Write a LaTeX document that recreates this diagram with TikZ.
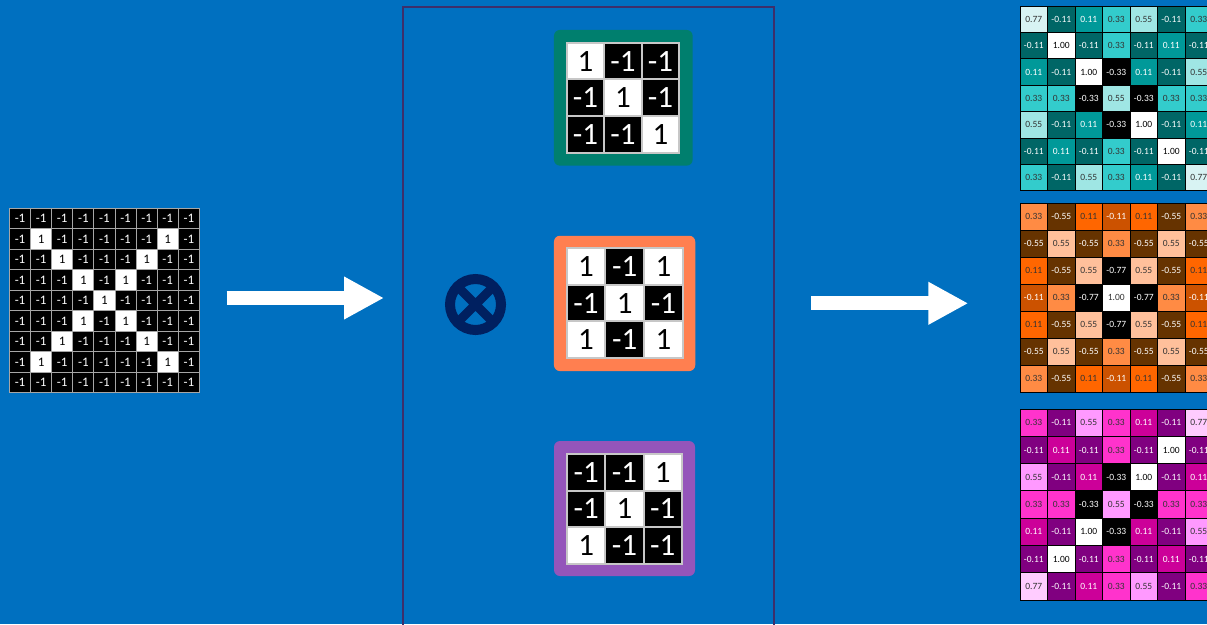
\documentclass[tikz,border=0pt]{standalone}
\usepackage{fontspec}
\setmainfont{Carlito}
\usetikzlibrary{arrows.meta}

\definecolor{bgblue}{HTML}{0070C0}
\definecolor{panelc}{HTML}{3E2F6A}
\definecolor{navyx}{HTML}{002060}
\definecolor{kteal}{HTML}{007F6E}
\definecolor{korange}{HTML}{FF7F50}
\definecolor{kpurple}{HTML}{9455BA}
\definecolor{tA77}{HTML}{D8F3F3}
\definecolor{tA55}{HTML}{9FE6E4}
\definecolor{tA33}{HTML}{33CCCC}
\definecolor{tA11}{HTML}{009999}
\definecolor{tAm11}{HTML}{006666}
\definecolor{oB55}{HTML}{FFC09B}
\definecolor{oB33}{HTML}{FF8B44}
\definecolor{oB11}{HTML}{FF6600}
\definecolor{oBm11}{HTML}{CC5200}
\definecolor{oBm55}{HTML}{663300}
\definecolor{pC77}{HTML}{FFCCFF}
\definecolor{pC55}{HTML}{FF99FF}
\definecolor{pC33}{HTML}{FF33CC}
\definecolor{pC11}{HTML}{CC0099}
\definecolor{pCm11}{HTML}{800080}

\tikzset{
  pix/.style={draw=black!35, line width=1pt, inner sep=0pt, minimum width=21.1pt,
    minimum height=20.5pt, font=\fontsize{13}{13}\selectfont},
  kpix/.style={draw=black!22, line width=2pt, inner sep=0pt, font=\fontsize{31}{31}\selectfont},
  kframe/.style={rounded corners=6pt, inner sep=0pt},
  mcell/.style={draw=black, line width=1pt, inner sep=0pt, minimum width=27.5pt,
    font=\fontsize{9.5}{9.5}\selectfont},
  bigarrow/.style={white, line width=14pt, -{Triangle[length=40pt,width=40pt]}},
  b1/.style={fill=white, text=black},
  b-1/.style={fill=black, text=white},
  A1.00/.style={fill=white, text=black},
  A0.77/.style={fill=tA77, text=black!80},
  A0.55/.style={fill=tA55, text=black!80},
  A0.33/.style={fill=tA33, text=black!80},
  A0.11/.style={fill=tA11, text=white},
  A-0.11/.style={fill=tAm11, text=white},
  A-0.33/.style={fill=black, text=white},
  B1.00/.style={fill=white, text=black!80},
  B0.55/.style={fill=oB55, text=black!80},
  B0.33/.style={fill=oB33, text=black!80},
  B0.11/.style={fill=oB11, text=black!80},
  B-0.11/.style={fill=oBm11, text=white},
  B-0.55/.style={fill=oBm55, text=white},
  B-0.77/.style={fill=black, text=white},
  C1.00/.style={fill=white, text=black},
  C0.77/.style={fill=pC77, text=black!80},
  C0.55/.style={fill=pC55, text=black!80},
  C0.33/.style={fill=pC33, text=black!80},
  C0.11/.style={fill=pC11, text=white},
  C-0.11/.style={fill=pCm11, text=white},
  C-0.33/.style={fill=black, text=white}
}

\begin{document}
\begin{tikzpicture}[x=1pt,y=-1pt]
  \useasboundingbox (0,0) rectangle (1207,624);
  \fill[bgblue] (0,0) rectangle (1207,624);

  \foreach \row [count=\ri] in {
    {-1,-1,-1,-1,-1,-1,-1,-1,-1},
    {-1,1,-1,-1,-1,-1,-1,1,-1},
    {-1,-1,1,-1,-1,-1,1,-1,-1},
    {-1,-1,-1,1,-1,1,-1,-1,-1},
    {-1,-1,-1,-1,1,-1,-1,-1,-1},
    {-1,-1,-1,1,-1,1,-1,-1,-1},
    {-1,-1,1,-1,-1,-1,1,-1,-1},
    {-1,1,-1,-1,-1,-1,-1,1,-1},
    {-1,-1,-1,-1,-1,-1,-1,-1,-1}}
    \foreach \v [count=\ci] in \row
      \node[pix, b\v] (in-\ri-\ci) at ({9.5+21.1*(\ci-0.5)},{208.3+20.5*(\ri-0.5)}) {\v};

  \node[draw=panelc, line width=2pt, inner sep=0pt, minimum width=371pt,
    minimum height=640pt] (conv) at (588.5,327) {};
  \node[circle, draw=navyx, line width=10pt, minimum size=51pt, inner sep=0pt,
    outer sep=0pt] (times) at (475.5,304.5) {};
  \draw[navyx, line width=9pt] (times.north west) -- (times.south east)
    (times.north east) -- (times.south west);

  \foreach \k/\fc/\cx/\cy/\fw/\fh/\gx/\gy/\w/\h/\vals in {
    A/kteal/623.3/97.8/138.7/135.7/566.7/42.7/37.5/36.7/{1,-1,-1,-1,1,-1,-1,-1,1},
    B/korange/624.6/303.4/141.3/135.3/566.7/248.3/38.7/36.5/{1,-1,1,-1,1,-1,1,-1,1},
    C/kpurple/624.5/508.5/141/135/567/454/38.3/36.5/{-1,-1,1,-1,1,-1,1,-1,-1}} {
    \node[kframe, fill=\fc, minimum width=\fw pt, minimum height=\fh pt] (k\k) at (\cx,\cy) {};
    \foreach \v [count=\i from 0] in \vals {
      \pgfmathtruncatemacro\ci{mod(\i,3)}
      \pgfmathtruncatemacro\ri{\i/3}
      \node[kpix, b\v, minimum width=\w pt, minimum height=\h pt] (k\k-\ri-\ci)
        at ({\gx+\w*(\ci+0.5)},{\gy+\h*(\ri+0.5)}) {\v};
    }
  }

  \foreach \m/\ytop/\h/\vals in {
    A/6/26.4/{0.77,-0.11,0.11,0.33,0.55,-0.11,0.33,
      -0.11,1.00,-0.11,0.33,-0.11,0.11,-0.11,
      0.11,-0.11,1.00,-0.33,0.11,-0.11,0.55,
      0.33,0.33,-0.33,0.55,-0.33,0.33,0.33,
      0.55,-0.11,0.11,-0.33,1.00,-0.11,0.11,
      -0.11,0.11,-0.11,0.33,-0.11,1.00,-0.11,
      0.33,-0.11,0.55,0.33,0.11,-0.11,0.77},
    B/203/27/{0.33,-0.55,0.11,-0.11,0.11,-0.55,0.33,
      -0.55,0.55,-0.55,0.33,-0.55,0.55,-0.55,
      0.11,-0.55,0.55,-0.77,0.55,-0.55,0.11,
      -0.11,0.33,-0.77,1.00,-0.77,0.33,-0.11,
      0.11,-0.55,0.55,-0.77,0.55,-0.55,0.11,
      -0.55,0.55,-0.55,0.33,-0.55,0.55,-0.55,
      0.33,-0.55,0.11,-0.11,0.11,-0.55,0.33},
    C/409/27.3/{0.33,-0.11,0.55,0.33,0.11,-0.11,0.77,
      -0.11,0.11,-0.11,0.33,-0.11,1.00,-0.11,
      0.55,-0.11,0.11,-0.33,1.00,-0.11,0.11,
      0.33,0.33,-0.33,0.55,-0.33,0.33,0.33,
      0.11,-0.11,1.00,-0.33,0.11,-0.11,0.55,
      -0.11,1.00,-0.11,0.33,-0.11,0.11,-0.11,
      0.77,-0.11,0.11,0.33,0.55,-0.11,0.33}} {
    \foreach \v [count=\i from 0] in \vals {
      \pgfmathtruncatemacro\ci{mod(\i,7)}
      \pgfmathtruncatemacro\ri{\i/7}
      \node[mcell, \m\v, minimum height=\h pt] (\m-\ri-\ci)
        at ({1020+27.5*(\ci+0.5)},{\ytop+\h*(\ri+0.5)}) {\v};
    }
  }

  \coordinate (inTail) at (226.7,298);
  \coordinate (inTip) at (384,298);
  \coordinate (outTail) at (811,303.3);
  \coordinate (outTip) at (968.3,303.3);
  \draw[bigarrow] (inTail) -- (inTip);
  \draw[bigarrow] (outTail) -- (outTip);
\end{tikzpicture}
\end{document}
